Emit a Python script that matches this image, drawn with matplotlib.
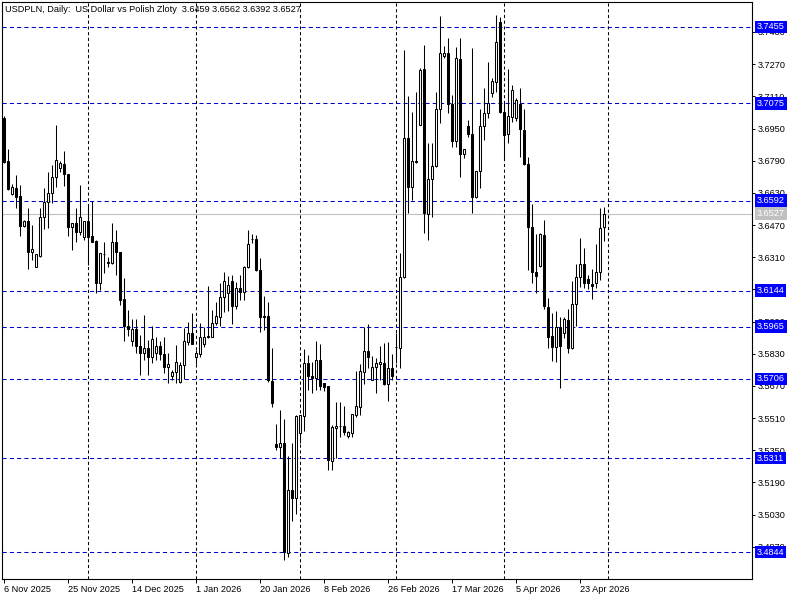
import matplotlib
matplotlib.use("Agg")
import numpy as np
import matplotlib.pyplot as plt
from matplotlib.patches import Rectangle

plt.rcParams['font.family'] = ['Liberation Sans', 'DejaVu Sans']

# daily candles, oldest first
opens = [3.7001, 3.6789, 3.6625, 3.6653, 3.6614, 3.6467, 3.6490, 3.6337, 3.6263, 3.6316,
         3.6509, 3.6583, 3.6628, 3.6708, 3.6752, 3.6772, 3.6724, 3.6462, 3.6479, 3.6437,
         3.6412, 3.6490, 3.6416, 3.6391, 3.6183, 3.6326, 3.6283, 3.6280, 3.6387, 3.6335,
         3.6101, 3.5968, 3.5895, 3.5951, 3.5869, 3.5835, 3.5857, 3.5815, 3.5835, 3.5869,
         3.5829, 3.5766, 3.5721, 3.5741, 3.5691, 3.5774, 3.5888, 3.5932, 3.5815, 3.5827,
         3.5879, 3.5918, 3.5915, 3.5984, 3.6014, 3.6111, 3.6134, 3.6192, 3.6067, 3.6155,
         3.6139, 3.6260, 3.6401, 3.6401, 3.6247, 3.6018, 3.6018, 3.5696, 3.5381, 3.5367,
         3.5385, 3.4841, 3.5152, 3.5111, 3.5437, 3.5520, 3.5782, 3.5719, 3.5709, 3.5799,
         3.5683, 3.5670, 3.5298, 3.5462, 3.5471, 3.5471, 3.5423, 3.5435, 3.5525, 3.5564,
         3.5741, 3.5843, 3.5699, 3.5762, 3.5779, 3.5782, 3.5680, 3.5757, 3.5862, 3.5857,
         3.6210, 3.6902, 3.6661, 3.6789, 3.6968, 3.7245, 3.6525, 3.6698, 3.6764, 3.7046,
         3.7312, 3.7324, 3.7071, 3.6889, 3.7294, 3.6824, 3.6963, 3.6923, 3.6611, 3.6739,
         3.6963, 3.7029, 3.7125, 3.7183, 3.7481, 3.7034, 3.6923, 3.7006, 3.7001, 3.7072,
         3.6943, 3.6772, 3.6458, 3.6235, 3.6265, 3.6421, 3.6061, 3.5918, 3.5862, 3.5962,
         3.5935, 3.5998, 3.5857, 3.6076, 3.6213, 3.6276, 3.6200, 3.6177, 3.6180, 3.6235,
         3.6459]
highs = [3.7010, 3.6848, 3.6674, 3.6719, 3.6669, 3.6495, 3.6553, 3.6470, 3.6328, 3.6553,
         3.6653, 3.6736, 3.6769, 3.6968, 3.6789, 3.6838, 3.6726, 3.6481, 3.6553, 3.6669,
         3.6492, 3.6565, 3.6590, 3.6396, 3.6331, 3.6386, 3.6313, 3.6482, 3.6445, 3.6337,
         3.6205, 3.6048, 3.6001, 3.6001, 3.5923, 3.6023, 3.5898, 3.5968, 3.5915, 3.5895,
         3.5915, 3.5835, 3.5749, 3.5874, 3.5790, 3.5957, 3.5989, 3.6034, 3.5849, 3.5981,
         3.5962, 3.6167, 3.6048, 3.6089, 3.6180, 3.6238, 3.6217, 3.6222, 3.6189, 3.6222,
         3.6265, 3.6445, 3.6425, 3.6421, 3.6305, 3.6117, 3.6089, 3.5857, 3.5481, 3.5550,
         3.5504, 3.5321, 3.5385, 3.5525, 3.5527, 3.5852, 3.5824, 3.5790, 3.5893, 3.5879,
         3.5685, 3.5672, 3.5476, 3.5592, 3.5592, 3.5570, 3.5447, 3.5531, 3.5745, 3.5779,
         3.5962, 3.5978, 3.5819, 3.5807, 3.5869, 3.5885, 3.5890, 3.5829, 3.5935, 3.6329,
         3.7341, 3.7112, 3.7034, 3.7133, 3.7250, 3.7366, 3.6877, 3.6877, 3.7133, 3.7510,
         3.7361, 3.7399, 3.7117, 3.7357, 3.7399, 3.6850, 3.6993, 3.7349, 3.6741, 3.7046,
         3.7150, 3.7282, 3.7200, 3.7515, 3.7505, 3.7077, 3.7245, 3.7167, 3.7101, 3.7150,
         3.7046, 3.6810, 3.6575, 3.6425, 3.6432, 3.6495, 3.6106, 3.6031, 3.6044, 3.6011,
         3.6011, 3.6051, 3.6192, 3.6276, 3.6404, 3.6354, 3.6222, 3.6251, 3.6376, 3.6556,
         3.6562]
lows = [3.6780, 3.6644, 3.6620, 3.6556, 3.6417, 3.6462, 3.6251, 3.6296, 3.6261, 3.6313,
        3.6449, 3.6457, 3.6581, 3.6661, 3.6736, 3.6664, 3.6416, 3.6346, 3.6387, 3.6421,
        3.6396, 3.6271, 3.6385, 3.6134, 3.6147, 3.6233, 3.6263, 3.6278, 3.6222, 3.6072,
        3.5895, 3.5918, 3.5869, 3.5832, 3.5724, 3.5799, 3.5724, 3.5782, 3.5799, 3.5799,
        3.5733, 3.5683, 3.5699, 3.5683, 3.5683, 3.5703, 3.5874, 3.5877, 3.5779, 3.5812,
        3.5866, 3.5910, 3.5913, 3.5972, 3.5968, 3.6039, 3.6044, 3.5978, 3.6051, 3.6097,
        3.6097, 3.6258, 3.6382, 3.6242, 3.5940, 3.5948, 3.5691, 3.5564, 3.5351, 3.5310,
        3.4804, 3.4821, 3.5000, 3.5033, 3.5388, 3.5447, 3.5650, 3.5633, 3.5650, 3.5650,
        3.5646, 3.5252, 3.5252, 3.5310, 3.5414, 3.5426, 3.5410, 3.5417, 3.5514, 3.5525,
        3.5680, 3.5757, 3.5697, 3.5636, 3.5699, 3.5675, 3.5596, 3.5699, 3.5782, 3.5757,
        3.6205, 3.6531, 3.6595, 3.6779, 3.6966, 3.6429, 3.6396, 3.6512, 3.6761, 3.6976,
        3.7299, 3.7026, 3.6860, 3.6860, 3.6711, 3.6804, 3.6910, 3.6528, 3.6603, 3.6653,
        3.6893, 3.7001, 3.7108, 3.7133, 3.7026, 3.6794, 3.6880, 3.6984, 3.6989, 3.6810,
        3.6769, 3.6244, 3.6180, 3.6134, 3.6263, 3.6053, 3.5857, 3.5796, 3.5790, 3.5658,
        3.5907, 3.5832, 3.5855, 3.5968, 3.6160, 3.6155, 3.6150, 3.6101, 3.6158, 3.6197,
        3.6392]
closes = [3.6785, 3.6648, 3.6658, 3.6611, 3.6465, 3.6490, 3.6337, 3.6349, 3.6326, 3.6509,
          3.6583, 3.6628, 3.6708, 3.6792, 3.6777, 3.6724, 3.6462, 3.6479, 3.6437, 3.6509,
          3.6490, 3.6412, 3.6387, 3.6183, 3.6329, 3.6325, 3.6284, 3.6387, 3.6335, 3.6097,
          3.5968, 3.5953, 3.5951, 3.5869, 3.5835, 3.5857, 3.5815, 3.5902, 3.5869, 3.5829,
          3.5766, 3.5779, 3.5741, 3.5790, 3.5774, 3.5893, 3.5932, 3.5879, 3.5832, 3.5915,
          3.5915, 3.5912, 3.5984, 3.6018, 3.6111, 3.6192, 3.6172, 3.6067, 3.6155, 3.6139,
          3.6263, 3.6376, 3.6400, 3.6244, 3.6014, 3.6014, 3.5699, 3.5584, 3.5367, 3.5385,
          3.4846, 3.5152, 3.5111, 3.5520, 3.5525, 3.5782, 3.5719, 3.5709, 3.5799, 3.5670,
          3.5666, 3.5302, 3.5467, 3.5472, 3.5472, 3.5443, 3.5440, 3.5529, 3.5570, 3.5745,
          3.5843, 3.5813, 3.5762, 3.5782, 3.5787, 3.5680, 3.5757, 3.5721, 3.5863, 3.6213,
          3.6902, 3.6661, 3.6789, 3.6785, 3.7241, 3.6528, 3.6698, 3.6764, 3.7046, 3.7324,
          3.7324, 3.7071, 3.6889, 3.7299, 3.6824, 3.6848, 3.6923, 3.6611, 3.6739, 3.6963,
          3.7029, 3.7076, 3.7186, 3.7379, 3.7034, 3.6918, 3.7012, 3.7142, 3.7092, 3.6946,
          3.6772, 3.6458, 3.6238, 3.6218, 3.6425, 3.6069, 3.5915, 3.5862, 3.5962, 3.5870,
          3.6001, 3.5857, 3.6076, 3.6213, 3.6276, 3.6180, 3.6180, 3.6167, 3.6235, 3.6454,
          3.6527]

date_labels = ["6 Nov 2025", "25 Nov 2025", "14 Dec 2025", "1 Jan 2026", "20 Jan 2026",
               "8 Feb 2026", "26 Feb 2026", "17 Mar 2026", "5 Apr 2026", "23 Apr 2026"]
date_label_bars = [0, 16, 32, 48, 64, 80, 96, 112, 128, 144]
month_start_bars = [21, 48, 74, 98, 125, 151]

levels = [3.7455, 3.7075, 3.6592, 3.6144, 3.5965, 3.5706, 3.5311, 3.4844]
bid = 3.6527
price_ticks = [3.4870, 3.5030, 3.5190, 3.5350, 3.5510, 3.5670, 3.5830, 3.5990, 3.6150,
               3.6310, 3.6470, 3.6630, 3.6790, 3.6950, 3.7110, 3.7270, 3.7430]

fig = plt.figure(figsize=(8, 6), dpi=100)
ax = fig.add_axes([2 / 800, 21 / 600, 750 / 800, 577 / 600])

# month separators
for b in month_start_bars:
    ax.axvline(b, color='black', lw=0.75, ls=(0, (3, 2.5)), zorder=1)

# level lines
for lv in levels:
    ax.axhline(lv, color='#0000CC', lw=0.75, ls=(0, (4, 3)), zorder=1)
ax.axhline(bid, color='#C0C0C0', lw=0.8, zorder=1)

# candles
x = np.arange(len(opens))
ax.vlines(x, lows, highs, color='black', lw=0.75, zorder=2)
w = 0.5
for i in range(len(opens)):
    o, c = opens[i], closes[i]
    fc = 'white' if c >= o else 'black'
    ax.add_patch(Rectangle((i - w / 2, min(o, c)), w, abs(c - o),
                           facecolor=fc, edgecolor='black', lw=0.75, zorder=3))

ax.set_xlim(-0.4, 187.1)
ax.set_ylim(3.4710, 3.7579)

for s in ax.spines.values():
    s.set_color('black')
    s.set_linewidth(0.8)

ax.yaxis.tick_right()
ax.set_yticks(price_ticks)
ax.set_yticklabels([f"{t:.4f}" for t in price_ticks])
ax.tick_params(axis='y', direction='out', length=2.5, width=0.7, pad=1.5, labelsize=6.6)

ax.set_xticks(date_label_bars)
ax.set_xticklabels(date_labels, ha='left')
ax.tick_params(axis='x', direction='out', length=3, width=0.7, pad=1.5, labelsize=6.6)

# price labels on the scale
ytr = ax.get_yaxis_transform()
for lv in levels:
    ax.text(1.0 + 5 / 750, lv, f"{lv:.4f}", transform=ytr, color='white', fontsize=6.6,
            va='center', ha='left', clip_on=False, zorder=6,
            bbox=dict(boxstyle='square,pad=0.18', fc='#0000FF', ec='none'))
ax.text(1.0 + 5 / 750, bid, f"{bid:.4f}", transform=ytr, color='white', fontsize=6.6,
        va='center', ha='left', clip_on=False, zorder=6,
        bbox=dict(boxstyle='square,pad=0.18', fc='#C0C0C0', ec='none'))

fig.text(5 / 800, 1 - 10 / 600,
         f"USDPLN, Daily:  US Dollar vs Polish Zloty  {opens[-1]:.4f} {highs[-1]:.4f} "
         f"{lows[-1]:.4f} {closes[-1]:.4f}",
         fontsize=6.6, va='center', ha='left')

fig.savefig("out.png", dpi=100)
